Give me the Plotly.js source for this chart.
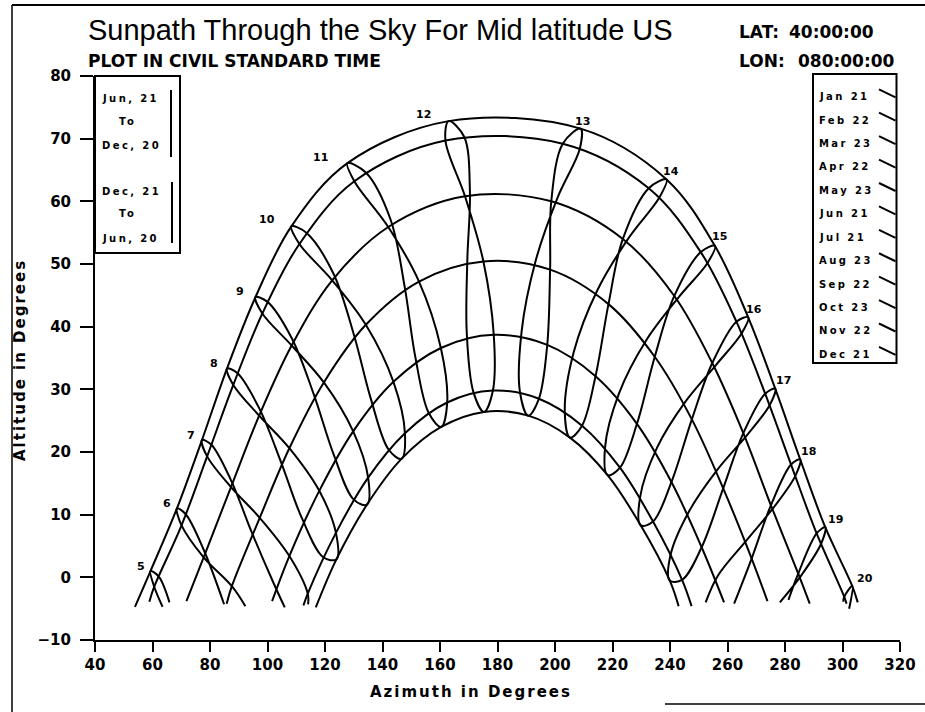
<!DOCTYPE html>
<html><head><meta charset="utf-8">
<script src="https://cdn.plot.ly/plotly-3.0.1.min.js"></script>
<style>html,body{margin:0;padding:0;background:#fff}#chart{width:925px;height:712px}</style>
</head><body><div id="chart"></div>
<script>
// clock hours (civil standard time) and dates shown on the chart
const hours = [5,6,7,8,9,10,11,12,13,14,15,16,17,18,19,20];
const dates = ["Jan 21","Feb 22","Mar 23","Apr 22","May 23","Jun 21","Jul 21","Aug 23","Sep 22","Oct 23","Nov 22","Dec 21"];

// sun azimuth / altitude (degrees) at each clock hour 5..20, per date (null = not drawn)
const azJan  = [null,null,null,119.4,130.0,142.1,156.0,171.6,187.8,203.4,217.4,229.6,240.2,null,null,null];
const altJan = [null,null,null,3.2,12.4,20.4,26.3,29.6,29.6,26.5,20.7,12.8,3.6,null,null,null];
const azFeb  = [null,null,102.1,112.0,123.1,136.0,151.4,169.3,188.4,206.5,222.3,235.5,246.7,256.7,null,null];
const altFeb = [null,null,-0.9,9.4,19.5,28.4,35.2,39.1,39.3,35.9,29.4,20.7,10.6,0.3,null,null];
const azMar  = [null,84.9,94.5,104.7,116.1,130.0,147.7,169.5,193.2,214.6,231.7,245.3,256.5,266.6,null,null];
const altMar = [null,-4.3,7.2,18.4,29.2,38.8,46.4,50.6,50.4,45.7,37.8,28.0,17.2,5.9,null,null];
const azApr  = [null,77.8,87.2,97.1,108.4,122.8,142.8,170.4,200.9,225.7,243.2,256.2,266.8,276.3,285.8,null];
const altApr = [null,4.4,15.6,27.0,38.2,48.6,57.1,61.7,60.6,54.2,44.8,34.0,22.7,11.3,0.4,null];
const azMay  = [62.2,71.5,80.4,89.5,99.9,113.5,134.2,168.4,208.7,236.3,253.1,265.0,274.7,283.6,292.6,302.3];
const altMay = [0.1,10.1,21.2,32.6,44.0,55.0,64.6,70.3,68.5,60.6,50.2,39.0,27.5,16.2,5.4,-5.0];
const azJun  = [59.3,68.5,77.2,85.9,95.8,108.3,127.8,163.0,208.9,238.8,255.6,267.2,276.6,285.3,294.0,303.4];
const altJun = [1.0,11.0,21.9,33.3,44.7,56.0,66.1,72.8,71.6,63.5,52.9,41.5,30.1,18.8,8.0,-1.4];
const azJul  = [60.6,70.1,79.0,88.1,98.2,111.1,130.2,161.9,202.7,232.6,250.7,263.1,273.1,282.1,291.0,300.6];
const altJul = [-1.5,8.3,19.3,30.7,42.1,53.2,63.2,69.7,69.2,62.1,51.9,40.8,29.3,18.0,7.0,-3.1];
const azAug  = [null,77.8,87.3,97.1,108.4,122.5,142.0,168.7,198.7,223.6,241.5,254.7,265.5,275.1,284.6,null];
const altAug = [null,3.2,14.4,25.8,37.0,47.4,55.9,60.8,60.0,54.0,44.9,34.2,23.0,11.5,0.6,null];
const azSep  = [null,87.6,97.3,107.6,119.6,134.2,152.7,175.1,198.3,218.6,234.7,247.6,258.5,268.4,null,null];
const altSep = [null,-1.4,9.5,20.6,31.1,40.3,47.2,50.4,49.1,43.6,35.2,25.2,14.2,3.0,null,null];
const azOct  = [null,null,107.6,118.0,129.8,143.8,160.3,178.7,197.3,214.1,228.5,240.5,251.0,null,null,null];
const altOct = [null,null,3.4,13.8,23.3,31.2,36.6,38.7,37.1,32.1,24.5,15.2,4.8,null,null,null];
const azNov  = [null,null,114.0,123.8,135.0,147.8,162.5,178.4,194.4,209.4,222.6,234.1,244.2,null,null,null];
const altNov = [null,null,-2.6,7.1,15.9,23.0,27.9,29.8,28.5,24.2,17.5,8.9,-0.4,null,null,null];
const azDec  = [null,null,null,124.0,134.6,146.6,160.4,175.3,190.7,205.2,218.3,229.8,239.9,null,null,null];
const altDec = [null,null,null,2.9,11.6,18.9,24.0,26.4,25.8,22.3,16.3,8.3,-0.5,null,null,null];

// where each day path starts (morning) and ends (evening) near the bottom of the drawing
const riseAz  = [112.4,100.9,null,71.4,58.8,53.9,58.9,71.8,85.8,101.6,112.5,116.8];
const riseAlt = [-4.5,-3.1,null,-3.1,-3.9,-4.7,-3.9,-3.8,-4.2,-3.8,-4.5,-4.8];
const setAz   = [247.5,259.5,274.4,288.8,null,305.3,301.4,288.6,273.9,258.8,247.5,243.0];
const setAlt  = [-4.4,-3.5,-3.5,-3.3,null,-4.0,-4.2,-4.2,-3.8,-4.0,-4.6,-4.6];

// day paths drawn as lines (paired dates share one visible line)
const arcDates = ["Jun 21","Jul 21","Aug 23","Sep 22","Oct 23","Nov 22","Dec 21"];

// lower end points of the hour loops that run out of the drawing (hour, after which date, az, alt)
const edgeHour  = [5,5,6,7,7,18,18,19,19,20];
const edgeAfter = ["Apr 22","Jul 21","Sep 22","Jan 21","Nov 22","Jan 21","Sep 22","Mar 23","Aug 23","Jul 21"];
const edgeAz    = [65.9,63.5,92.3,106.0,114.1,252.4,262.3,278.2,281.2,300.3];
const edgeAlt   = [-4.0,-4.7,-4.6,-4.8,-4.3,-4.0,-4.2,-4.0,-3.6,-3.9];

const azByDate  = [azJan,azFeb,azMar,azApr,azMay,azJun,azJul,azAug,azSep,azOct,azNov,azDec];
const altByDate = [altJan,altFeb,altMar,altApr,altMay,altJun,altJul,altAug,altSep,altOct,altNov,altDec];

// ---- styling / layout helpers ----
const L = 95, R = 900, T = 76, B = 640;
const PX = x => (x - L) / (R - L);
const PY = y => (B - y) / (B - T);
const lineStyle = {color:'#000', width:2, shape:'spline', smoothing:1};
const BOLD = 'DejaVu Sans';
const labelDX = [-9,-10,-11,-13,-15,-24,-27,-25,2,4,5,6,8,8,10,13];
const labelDY = [-5,-5,-5,-5,-6,-7,-6,-7,-7,-8,-9,-8,-8,-8,-8,-8];

const traces = [];
dates.forEach((name, d) => {
  if (!arcDates.includes(name)) return;
  const x = [], y = [];
  if (riseAz[d] != null) { x.push(riseAz[d]); y.push(riseAlt[d]); }
  hours.forEach((h, k) => {
    if (azByDate[d][k] != null) { x.push(azByDate[d][k]); y.push(altByDate[d][k]); }
  });
  if (setAz[d] != null) { x.push(setAz[d]); y.push(setAlt[d]); }
  traces.push({type:'scatter', mode:'lines', x, y, name, line:lineStyle, hoverinfo:'skip', showlegend:false});
});
hours.forEach((h, k) => {
  const seq = [];
  for (let d = 0; d < 12; d++) {
    seq.push(azByDate[d][k] == null ? null : [azByDate[d][k], altByDate[d][k]]);
    edgeHour.forEach((eh, i) => { if (eh === h && edgeAfter[i] === dates[d]) seq.push([edgeAz[i], edgeAlt[i]]); });
  }
  const gap = seq.indexOf(null);
  const path = gap < 0 ? seq.slice(2).concat(seq.slice(0, 3)) : seq.slice(gap).concat(seq.slice(0, gap));
  traces.push({type:'scatter', mode:'lines', connectgaps:false,
    x: path.map(p => p ? p[0] : null), y: path.map(p => p ? p[1] : null),
    name: 'hour ' + h, line:lineStyle, hoverinfo:'skip', showlegend:false});
});

const ann = [];
const addText = (text, x, y, size, xanchor, opts) => ann.push(Object.assign({
  text, xref:'paper', yref:'paper', x:PX(x), y:PY(y), xanchor, yanchor:'middle',
  showarrow:false, font:{family:BOLD, size, color:'#000', weight:'bold'}}, opts || {}));
const sp = (t, s) => '<span style="letter-spacing:' + s + 'px">' + t + '</span>';

// titles
ann.push({text:'Sunpath Through the Sky For Mid latitude US', xref:'paper', yref:'paper',
  x:PX(86), y:PY(30), xanchor:'left', yanchor:'middle', showarrow:false,
  font:{family:'Liberation Sans', size:29, color:'#000'}});
addText('PLOT IN CIVIL STANDARD TIME', 86, 61, 17, 'left');
addText('LAT:', 737, 32, 17, 'left');
addText('40:00:00', 787, 32, 17, 'left');
addText('LON:', 737, 61, 17, 'left');
addText('080:00:00', 796, 61, 17, 'left');
// axis titles
addText(sp('Azimuth in Degrees', 2), 471, 692, 15, 'center');
addText(sp('Altitude in Degrees', 2), 20, 360, 15, 'center', {textangle:-90});

// hour labels next to the top of each hour loop
hours.forEach((h, k) => ann.push({text:String(h), x:azJun[k], y:altJun[k], xref:'x', yref:'y',
  xshift:labelDX[k], yshift:-labelDY[k], showarrow:false, xanchor:'center', yanchor:'middle',
  font:{family:BOLD, size:11, color:'#000', weight:'bold'}}));

// left legend
addText(sp('Jun, 21', 2.4), 100, 98, 10, 'left');
addText(sp('To', 2.4), 127, 122, 10, 'center');
addText(sp('Dec, 20', 2.4), 100, 145, 10, 'left');
addText(sp('Dec, 21', 2.4), 100, 191, 10, 'left');
addText(sp('To', 2.4), 127, 214, 10, 'center');
addText(sp('Jun, 20', 2.4), 100, 238, 10, 'left');
// right legend
dates.forEach((dname, i) => addText(sp(dname, 2.4), 817, 96.7 + i * 23.42, 10, 'left'));

const shapes = [];
const rect = (x0, y0, x1, y1, w) => shapes.push({type:'rect', xref:'paper', yref:'paper',
  x0:PX(x0), y0:PY(y0), x1:PX(x1), y1:PY(y1), line:{color:'#000', width:w}, fillcolor:'rgba(0,0,0,0)'});
const seg = (x0, y0, x1, y1, w) => shapes.push({type:'line', xref:'paper', yref:'paper',
  x0:PX(x0), y0:PY(y0), x1:PX(x1), y1:PY(y1), line:{color:'#000', width:w}});
rect(95, 76, 180, 253, 2);
seg(171, 90, 171, 157, 2);
seg(172, 182, 172, 243, 2);
rect(813, 74, 896.5, 363, 2);
dates.forEach((dname, i) => seg(879, 89.3 + i * 23.42, 895.5, 97.3 + i * 23.42, 2));
// scanned page frame (top, left, part of bottom)
seg(12, 5, 925, 5, 2);
seg(12, 5, 12, 712, 1.5);
seg(665, 704, 925, 704, 1.5);

const axisFont = {family:BOLD, size:15, color:'#000', weight:'bold'};
const layout = {
  width:925, height:712, margin:{l:L, r:925 - R, t:T, b:712 - B, pad:0},
  paper_bgcolor:'#fff', plot_bgcolor:'#fff', showlegend:false,
  xaxis:{range:[40,320], tick0:40, dtick:20, ticks:'outside', ticklen:10, tickwidth:2, tickcolor:'#000',
    showline:true, linewidth:2, linecolor:'#000', showgrid:false, zeroline:false, mirror:false,
    tickfont:axisFont, automargin:false},
  yaxis:{range:[-10,80], tick0:-10, dtick:10, ticks:'outside', ticklen:13, tickwidth:2, tickcolor:'#000',
    showline:true, linewidth:2, linecolor:'#000', showgrid:false, zeroline:false, mirror:false,
    tickfont:axisFont, automargin:false, ticklabelstandoff:6},
  annotations:ann, shapes
};
Plotly.newPlot('chart', traces, layout, {staticPlot:true, displayModeBar:false});
</script></body></html>
